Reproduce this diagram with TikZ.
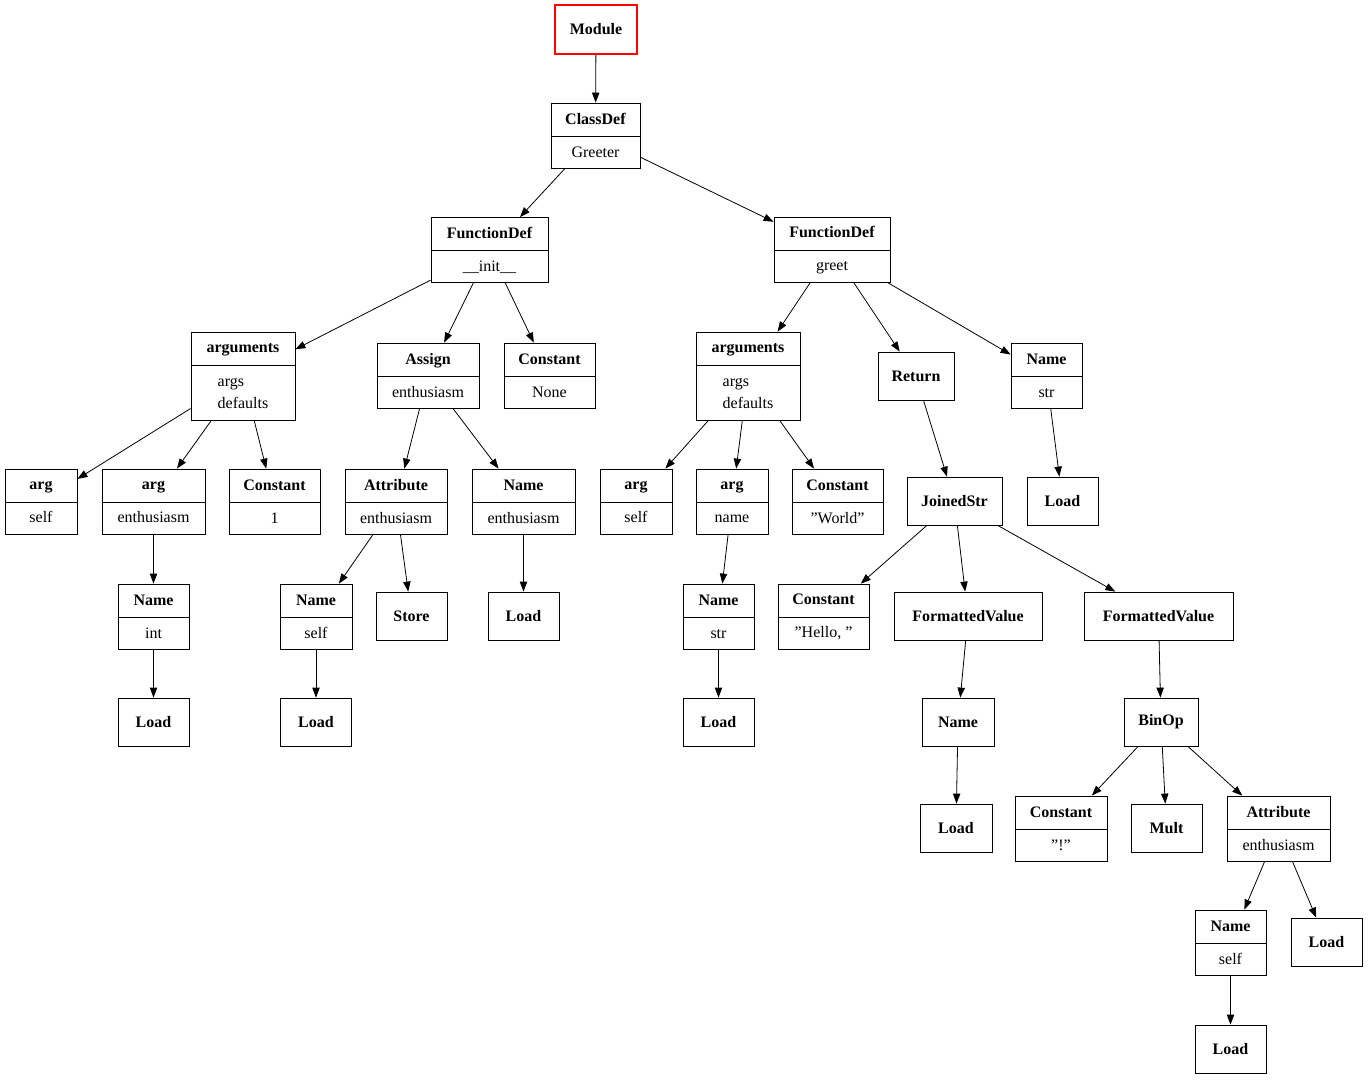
\documentclass[tikz,border=0pt]{standalone}
\usepackage{fontspec}
\setmainfont{Liberation Serif}
\usetikzlibrary{arrows.meta}

\tikzset{
  box/.style={draw, line width=0.6pt, inner sep=0pt, align=center,
    font=\fontsize{12}{24.75}\selectfont\bfseries, minimum height=36pt, minimum width=53.25pt},
  rec/.style={draw, line width=0.6pt, inner sep=0pt, align=center,
    font=\fontsize{12}{24.75}\selectfont, minimum height=48.75pt,
    path picture={\draw[line width=0.6pt] ([yshift=-25pt]path picture bounding box.north west)
      -- ([yshift=-25pt]path picture bounding box.north east);}},
  argrec/.style={rec, font=\fontsize{12}{16.5}\selectfont, minimum height=66pt, minimum width=78pt},
  edge/.style={-{Triangle[length=7.5pt,width=5.5pt]}, line width=0.6pt}
}
\newcommand{\hd}[1]{\textbf{#1}}
\newcommand{\qt}[1]{\symbol{34}#1\symbol{34}}
\newcommand{\argtext}{\hd{arguments}\\[9pt]\rlap{args}\phantom{defaults}\\defaults}

\begin{document}
\begin{tikzpicture}[x=0.75pt,y=-0.75pt]
  \useasboundingbox (0,0) rectangle (1368,1079);
  % top of the tree
  \node[box, draw=red, line width=1.6pt, minimum width=61.5pt, minimum height=36.75pt] (module) at (596,29.5) {Module};
  \node[rec, minimum width=66.75pt] (classdef) at (595.5,135.5) {\hd{ClassDef}\\Greeter};
  \node[rec, minimum width=87.75pt] (fdinit) at (489.5,250) {\hd{FunctionDef}\\\_\_init\_\_};
  \node[rec, minimum width=87pt] (fdgreet) at (832,250) {\hd{FunctionDef}\\greet};
  % __init__ branch
  \node[argrec] (argsinit) at (243,376) {\argtext};
  \node[rec, minimum width=76.5pt] (assign) at (428,375.5) {\hd{Assign}\\enthusiasm};
  \node[rec, minimum width=68.25pt] (constnone) at (549.5,375.5) {\hd{Constant}\\None};
  \node[rec, minimum width=54pt] (argself) at (41,501.5) {\hd{arg}\\self};
  \node[rec, minimum width=77.25pt] (argenth) at (153.5,501.5) {\hd{arg}\\enthusiasm};
  \node[rec, minimum width=68.25pt] (constone) at (274.5,501.5) {\hd{Constant}\\1};
  \node[rec, minimum width=76.5pt] (attrinit) at (396,501.5) {\hd{Attribute}\\enthusiasm};
  \node[rec, minimum width=77.25pt] (nameenth) at (523.5,501.5) {\hd{Name}\\enthusiasm};
  \node[rec, minimum width=53.25pt] (nameint) at (153.5,616.5) {\hd{Name}\\int};
  \node[rec, minimum width=54pt] (nameself) at (316,616.5) {\hd{Name}\\self};
  \node[box] (store) at (411.5,616) {Store};
  \node[box] (loadenth) at (523.5,616) {Load};
  \node[box] (loadint) at (153.5,722) {Load};
  \node[box] (loadself) at (316,722) {Load};
  % greet branch
  \node[argrec] (argsgreet) at (748,376) {\argtext};
  \node[box, minimum width=57pt] (return) at (916,376) {Return};
  \node[rec, minimum width=53.25pt] (namestr) at (1046.5,375.5) {\hd{Name}\\str};
  \node[rec, minimum width=54pt] (argself2) at (636,501.5) {\hd{arg}\\self};
  \node[rec, minimum width=54pt] (argname) at (732,501.5) {\hd{arg}\\name};
  \node[rec, minimum width=68.25pt] (constworld) at (837.5,501.5) {\hd{Constant}\\\qt{World}};
  \node[box, minimum width=71.25pt] (joined) at (954.5,501) {JoinedStr};
  \node[box] (loadstr) at (1062.5,501) {Load};
  \node[rec, minimum width=53.25pt] (namestr2) at (718.5,616.5) {\hd{Name}\\str};
  \node[box] (loadstr2) at (718.5,722) {Load};
  \node[rec, minimum width=68.25pt] (consthello) at (823.5,616.5) {\hd{Constant}\\\qt{Hello,~}};
  \node[box, minimum width=111pt] (fvone) at (968,616) {FormattedValue};
  \node[box, minimum width=111.75pt] (fvtwo) at (1158.5,616) {FormattedValue};
  \node[box, minimum width=54pt] (namefv) at (958,722) {Name};
  \node[box, minimum width=54pt] (loadfv) at (956,828) {Load};
  \node[box, minimum width=55.5pt] (binop) at (1161,722) {BinOp};
  \node[rec, minimum width=69pt] (constbang) at (1061,828.5) {\hd{Constant}\\\qt{!}};
  \node[box] (mult) at (1166.5,828) {Mult};
  \node[rec, minimum width=77.25pt] (attrgreet) at (1278.5,828.5) {\hd{Attribute}\\enthusiasm};
  \node[rec, minimum width=53.25pt] (nameself3) at (1230.5,942.5) {\hd{Name}\\self};
  \node[box] (loadattr) at (1326.5,942) {Load};
  \node[box] (loadself3) at (1230.5,1049) {Load};
  % connectors
  \draw[edge] (module) -- (classdef);
  \draw[edge] (classdef) -- (fdinit);
  \draw[edge] (classdef) -- (fdgreet);
  \draw[edge] (fdinit) -- (argsinit);
  \draw[edge] (fdinit) -- (assign);
  \draw[edge] (fdinit) -- (constnone);
  \draw[edge] (argsinit) -- (argself);
  \draw[edge] (argsinit) -- (argenth);
  \draw[edge] (argsinit) -- (constone);
  \draw[edge] (argenth) -- (nameint);
  \draw[edge] (nameint) -- (loadint);
  \draw[edge] (assign) -- (attrinit);
  \draw[edge] (assign) -- (nameenth);
  \draw[edge] (attrinit) -- (nameself);
  \draw[edge] (attrinit) -- (store);
  \draw[edge] (nameself) -- (loadself);
  \draw[edge] (nameenth) -- (loadenth);
  \draw[edge] (fdgreet) -- (argsgreet);
  \draw[edge] (fdgreet) -- (return);
  \draw[edge] (fdgreet) -- (namestr);
  \draw[edge] (argsgreet) -- (argself2);
  \draw[edge] (argsgreet) -- (argname);
  \draw[edge] (argsgreet) -- (constworld);
  \draw[edge] (argname) -- (namestr2);
  \draw[edge] (namestr2) -- (loadstr2);
  \draw[edge] (return) -- (joined);
  \draw[edge] (namestr) -- (loadstr);
  \draw[edge] (joined) -- (consthello);
  \draw[edge] (joined) -- (fvone);
  \draw[edge] (joined) -- (fvtwo);
  \draw[edge] (fvone) -- (namefv);
  \draw[edge] (namefv) -- (loadfv);
  \draw[edge] (fvtwo) -- (binop);
  \draw[edge] (binop) -- (constbang);
  \draw[edge] (binop) -- (mult);
  \draw[edge] (binop) -- (attrgreet);
  \draw[edge] (attrgreet) -- (nameself3);
  \draw[edge] (attrgreet) -- (loadattr);
  \draw[edge] (nameself3) -- (loadself3);
\end{tikzpicture}
\end{document}
